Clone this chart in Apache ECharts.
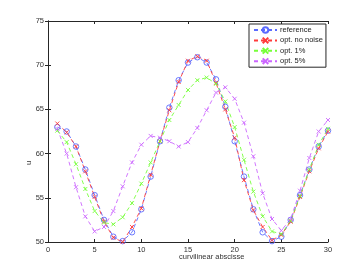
<!DOCTYPE html>
<html><head><meta charset="utf-8">
<script src="https://cdn.jsdelivr.net/npm/echarts@6/dist/echarts.min.js"></script>
<style>html,body{margin:0;padding:0;background:#fff}#c{width:362px;height:273px}</style>
</head><body><div id="c"></div><script>
var xs = [1,2,3,4,5,6,7,8,9,10,11,12,13,14,15,16,17,18,19,20,21,22,23,24,25,26,27,28,29,30];
var reference = [63.0,62.5,60.8,58.2,55.3,52.5,50.6,50.1,51.1,53.7,57.4,61.4,65.2,68.3,70.3,70.9,70.3,68.4,65.3,61.4,57.4,53.7,51.1,50.1,50.6,52.5,55.3,58.2,60.8,62.6];
var optNoNoise = [63.4,62.4,60.8,58.0,55.1,52.3,50.5,50.0,51.7,53.8,57.6,61.4,64.9,68.1,70.5,71.0,70.5,68.0,65.0,61.8,57.0,53.6,51.7,50.2,50.8,52.3,55.1,58.0,60.6,62.5];
var opt1 = [62.6,61.3,58.8,56.0,53.5,52.2,52.0,52.8,54.4,56.6,59.0,61.4,63.8,65.5,67.2,68.3,68.6,67.9,65.9,63.0,59.3,55.7,52.9,51.2,50.9,52.4,55.2,58.2,61.0,62.8];
var opt5 = [62.8,60.0,56.2,52.9,51.2,51.7,53.5,56.3,59.0,61.0,62.0,61.8,61.4,60.8,61.3,62.9,64.9,66.9,67.5,66.2,63.5,59.7,55.5,52.6,51.3,52.6,55.8,59.5,62.5,63.8];
var seriesNames = ['reference','opt. no noise','opt. 1%','opt. 5%'];
var xTicks = {min:0,max:30,interval:5};
var yTicks = {min:50,max:75,interval:5};

function pairs(v){ return xs.map(function(x,i){return [x,v[i]];}); }
var FONT = 'Liberation Sans, Arial, sans-serif';
var axisCol = '#262626';
var cross = 'path://M0,0L1,1M1,0L0,1';
function mk(name, data, color, symbol, size){
  return {
    name: name, type:'line', data: pairs(data),
    symbol: symbol, symbolSize: size, showSymbol:true,
    lineStyle:{color:color,width:0.9,type:[4,3]},
    itemStyle:{color: symbol==='circle' ? 'rgba(255,255,255,0)' : color, borderColor:color, borderWidth:0.9},
    emphasis:{disabled:true}, animation:false, z:3
  };
}
var colors = ['#5b6bff','#ff3b3b','#77ff3a','#cc66ff'];
var series = [
  mk(seriesNames[0], reference, colors[0], 'circle', 5.5),
  mk(seriesNames[1], optNoNoise, colors[1], cross, 4),
  mk(seriesNames[2], opt1, colors[2], cross, 4),
  mk(seriesNames[3], opt5, colors[3], cross, 4)
];
var axisBase = {
  axisLine:{show:true,lineStyle:{color:axisCol,width:1}},
  axisTick:{show:true,inside:true,length:3,lineStyle:{color:axisCol}},
  splitLine:{show:false},
  axisLabel:{color:'#333',fontSize:7.5,fontFamily:FONT,margin:4}
};
function ax(extra){ return Object.assign({}, JSON.parse(JSON.stringify(axisBase)), extra); }
var chart = echarts.init(document.getElementById('c'), null, {renderer:'canvas'});
chart.setOption({
  backgroundColor:'#fff',
  animation:false,
  grid:{left:48,right:34,top:21,bottom:31,containLabel:false},
  xAxis:[
    ax({type:'value',position:'bottom',min:xTicks.min,max:xTicks.max,interval:xTicks.interval}),
    ax({type:'value',position:'top',min:xTicks.min,max:xTicks.max,interval:xTicks.interval,axisLabel:{show:false}})
  ],
  yAxis:[
    ax({type:'value',position:'left',min:yTicks.min,max:yTicks.max,interval:yTicks.interval}),
    ax({type:'value',position:'right',min:yTicks.min,max:yTicks.max,interval:yTicks.interval,axisLabel:{show:false}})
  ],
  legend:{
    orient:'vertical', left:249, top:24,
    backgroundColor:'#fff', borderColor:axisCol, borderWidth:1,
    padding:[2,3,2,4], itemWidth:23, itemHeight:7, itemGap:2.4,
    textStyle:{fontSize:7.5,fontFamily:FONT,color:'#222',padding:[0,0,0,-2]},
    data: seriesNames
  },
  graphic:[
    {type:'text',left:179,top:253,style:{text:'curvilinear abscisse',font:'7.5px '+FONT,fill:'#333'}},
    {type:'text',x:25,y:165,rotation:Math.PI/2,style:{text:'u',font:'7.5px '+FONT,fill:'#333'}}
  ],
  series: series
});
</script></body></html>
